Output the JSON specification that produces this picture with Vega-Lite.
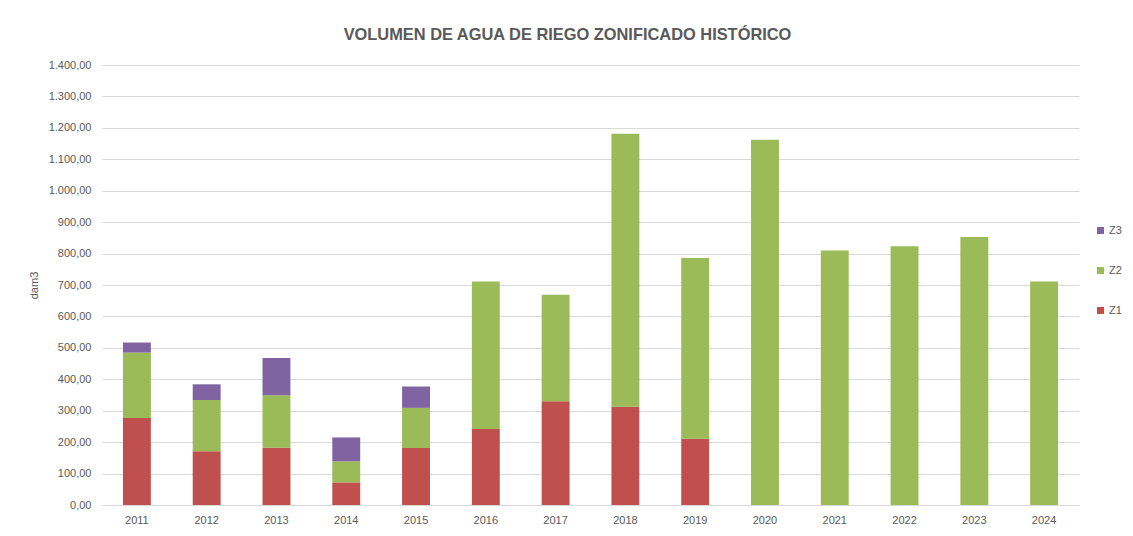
{
  "$schema": "https://vega.github.io/schema/vega-lite/v6.json",
  "autosize": "none",
  "width": 977,
  "height": 440,
  "padding": {"left": 102, "top": 65, "right": 54, "bottom": 31},
  "background": "white",
  "title": {
    "text": "VOLUMEN DE AGUA DE RIEGO ZONIFICADO HISTÓRICO",
    "anchor": "middle",
    "dx": -23,
    "offset": 16,
    "font": "Liberation Sans",
    "fontSize": 16.4,
    "fontWeight": "bold",
    "color": "#595959"
  },
  "data": {
    "values": [
      {"anio": "2011", "zona": "Z1", "valor": 277},
      {"anio": "2011", "zona": "Z2", "valor": 208},
      {"anio": "2011", "zona": "Z3", "valor": 32},
      {"anio": "2012", "zona": "Z1", "valor": 171},
      {"anio": "2012", "zona": "Z2", "valor": 163},
      {"anio": "2012", "zona": "Z3", "valor": 50},
      {"anio": "2013", "zona": "Z1", "valor": 182},
      {"anio": "2013", "zona": "Z2", "valor": 167},
      {"anio": "2013", "zona": "Z3", "valor": 119},
      {"anio": "2014", "zona": "Z1", "valor": 72},
      {"anio": "2014", "zona": "Z2", "valor": 67},
      {"anio": "2014", "zona": "Z3", "valor": 76},
      {"anio": "2015", "zona": "Z1", "valor": 181},
      {"anio": "2015", "zona": "Z2", "valor": 128},
      {"anio": "2015", "zona": "Z3", "valor": 68},
      {"anio": "2016", "zona": "Z1", "valor": 242},
      {"anio": "2016", "zona": "Z2", "valor": 469},
      {"anio": "2017", "zona": "Z1", "valor": 330},
      {"anio": "2017", "zona": "Z2", "valor": 339},
      {"anio": "2018", "zona": "Z1", "valor": 313},
      {"anio": "2018", "zona": "Z2", "valor": 868},
      {"anio": "2019", "zona": "Z1", "valor": 211},
      {"anio": "2019", "zona": "Z2", "valor": 575},
      {"anio": "2020", "zona": "Z2", "valor": 1162},
      {"anio": "2021", "zona": "Z2", "valor": 810},
      {"anio": "2022", "zona": "Z2", "valor": 823},
      {"anio": "2023", "zona": "Z2", "valor": 853},
      {"anio": "2024", "zona": "Z2", "valor": 711}
    ]
  },
  "mark": {"type": "bar"},
  "encoding": {
    "x": {
      "field": "anio",
      "type": "ordinal",
      "scale": {"paddingInner": 0.6, "paddingOuter": 0.3},
      "axis": {
        "title": null,
        "labelAngle": 0,
        "domain": false,
        "ticks": false,
        "labelPadding": 9,
        "labelFont": "Liberation Sans",
        "labelFontSize": 11,
        "labelColor": "#595959"
      }
    },
    "y": {
      "field": "valor",
      "type": "quantitative",
      "stack": "zero",
      "scale": {"domain": [0, 1400], "nice": false},
      "axis": {
        "title": "dam3",
        "titleFont": "Liberation Sans",
        "titleFontSize": 11,
        "titleFontWeight": "normal",
        "titleColor": "#595959",
        "titlePadding": 9,
        "format": ",.2f",
        "tickCount": 14,
        "domain": false,
        "ticks": false,
        "labelPadding": 11,
        "labelFont": "Liberation Sans",
        "labelFontSize": 11,
        "labelColor": "#595959",
        "gridColor": "#d9d9d9",
        "gridWidth": 1
      }
    },
    "color": {
      "field": "zona",
      "type": "nominal",
      "scale": {"domain": ["Z3", "Z2", "Z1"], "range": ["#8064a2", "#9bbb59", "#c0504d"]},
      "legend": {
        "title": null,
        "orient": "none",
        "legendX": 993,
        "legendY": 160,
        "symbolType": "square",
        "symbolSize": 49,
        "symbolStrokeWidth": 0,
        "labelFont": "Liberation Sans",
        "labelFontSize": 11,
        "labelColor": "#595959",
        "labelOffset": 3,
        "rowPadding": 28
      }
    },
    "order": {"field": "zona", "sort": "ascending"}
  },
  "config": {
    "locale": {
      "number": {"decimal": ",", "thousands": ".", "grouping": [3], "currency": ["", " €"]}
    },
    "view": {"stroke": null},
    "axis": {"gridColor": "#d9d9d9"}
  }
}
